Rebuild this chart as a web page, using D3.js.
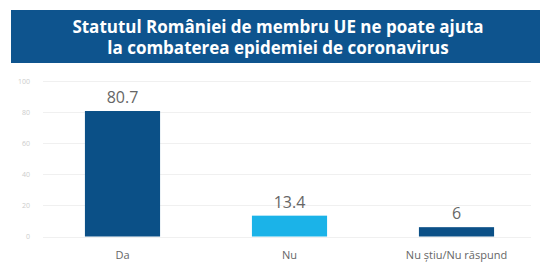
<!DOCTYPE html>
<html>
<head>
<meta charset="utf-8">
<script src="https://cdn.jsdelivr.net/npm/d3@7"></script>
<style>
  body { margin: 0; background: #fff; }
  svg { display: block; }
</style>
</head>
<body>
<div id="chart"></div>
<script>
var titleLines = ["Statutul României de membru UE ne poate ajuta",
                  "la combaterea epidemiei de coronavirus"];
var categories = ["Da", "Nu", "Nu știu/Nu răspund"];
var values = [80.7, 13.4, 6];
var valueLabels = ["80.7", "13.4", "6"];
var barColors = ["#0b5087", "#1bb3e8", "#0b5087"];
var yTicks = [0, 20, 40, 60, 80, 100];

var width = 543,
    height = 266,
    margin = { left: 39, right: 3, top: 81, bottom: 29 };

function translate(x, y){
    return "translate(" + x + "," + y + ")";
}

var svg = d3.select("#chart")
    .append("svg")
    .attr("width", width)
    .attr("height", height);

// title box
svg.append("rect")
    .attr("x", 11)
    .attr("y", 10)
    .attr("width", 529)
    .attr("height", 53)
    .attr("fill", "#0e548e");

svg.selectAll(".title")
    .data(titleLines)
    .enter()
    .append("text")
    .attr("class", "title")
    .attr("x", 278)
    .attr("y", function(d, i){ return 33 + i * 21; })
    .attr("text-anchor", "middle")
    .attr("fill", "#fff")
    .style("font-family", "'Open Sans', sans-serif")
    .style("font-weight", "bold")
    .style("font-size", "17px")
    .text(function(d){ return d; });

var innerW = width - margin.left - margin.right,
    innerH = height - margin.top - margin.bottom;

var xScale = d3.scaleBand()
    .domain(categories)
    .range([0, innerW])
    .paddingInner(0.55)
    .paddingOuter(0.275);

var yScale = d3.scaleLinear()
    .domain([0, 100])
    .range([innerH - 0.5, 0]);

var g = svg.append("g")
    .attr("transform", translate(margin.left, margin.top));

// gridlines
g.selectAll(".grid")
    .data(yTicks)
    .enter()
    .append("line")
    .attr("class", "grid")
    .attr("x1", 4)
    .attr("x2", 492)
    .attr("y1", function(d){ return Math.round(yScale(d)) + 0.5; })
    .attr("y2", function(d){ return Math.round(yScale(d)) + 0.5; })
    .attr("stroke", "#f0f0f0")
    .attr("stroke-width", 1);

var yAxis = d3.axisLeft(yScale)
    .tickValues(yTicks)
    .tickSize(0)
    .tickPadding(9);

g.append("g")
    .attr("class", "y-axis")
    .call(yAxis)
    .call(function(s){ s.select(".domain").remove(); })
    .selectAll("text")
    .attr("fill", "#cccccc")
    .style("font-family", "'Open Sans', sans-serif")
    .style("font-size", "7px");

var data = categories.map(function(c, i){
    return { cat: c, val: values[i], label: valueLabels[i], color: barColors[i] };
});

g.selectAll(".bar")
    .data(data)
    .enter()
    .append("rect")
    .attr("class", "bar")
    .attr("x", function(d){ return xScale(d.cat); })
    .attr("width", xScale.bandwidth())
    .attr("y", function(d){ return yScale(d.val); })
    .attr("height", function(d){ return yScale(0) - yScale(d.val); })
    .attr("fill", function(d){ return d.color; });

g.selectAll(".val")
    .data(data)
    .enter()
    .append("text")
    .attr("class", "val")
    .attr("x", function(d){ return xScale(d.cat) + xScale.bandwidth() / 2; })
    .attr("y", function(d){ return yScale(d.val) - 8; })
    .attr("text-anchor", "middle")
    .attr("fill", "#666666")
    .style("font-family", "'Open Sans', sans-serif")
    .style("font-size", "16px")
    .text(function(d){ return d.label; });

var xAxis = d3.axisBottom(xScale)
    .tickSize(0)
    .tickPadding(14);

g.append("g")
    .attr("class", "x-axis")
    .attr("transform", translate(0, innerH))
    .call(xAxis)
    .call(function(s){ s.select(".domain").remove(); })
    .selectAll("text")
    .attr("fill", "#666666")
    .style("font-family", "'Open Sans', sans-serif")
    .style("font-size", "11px");
</script>
</body>
</html>
